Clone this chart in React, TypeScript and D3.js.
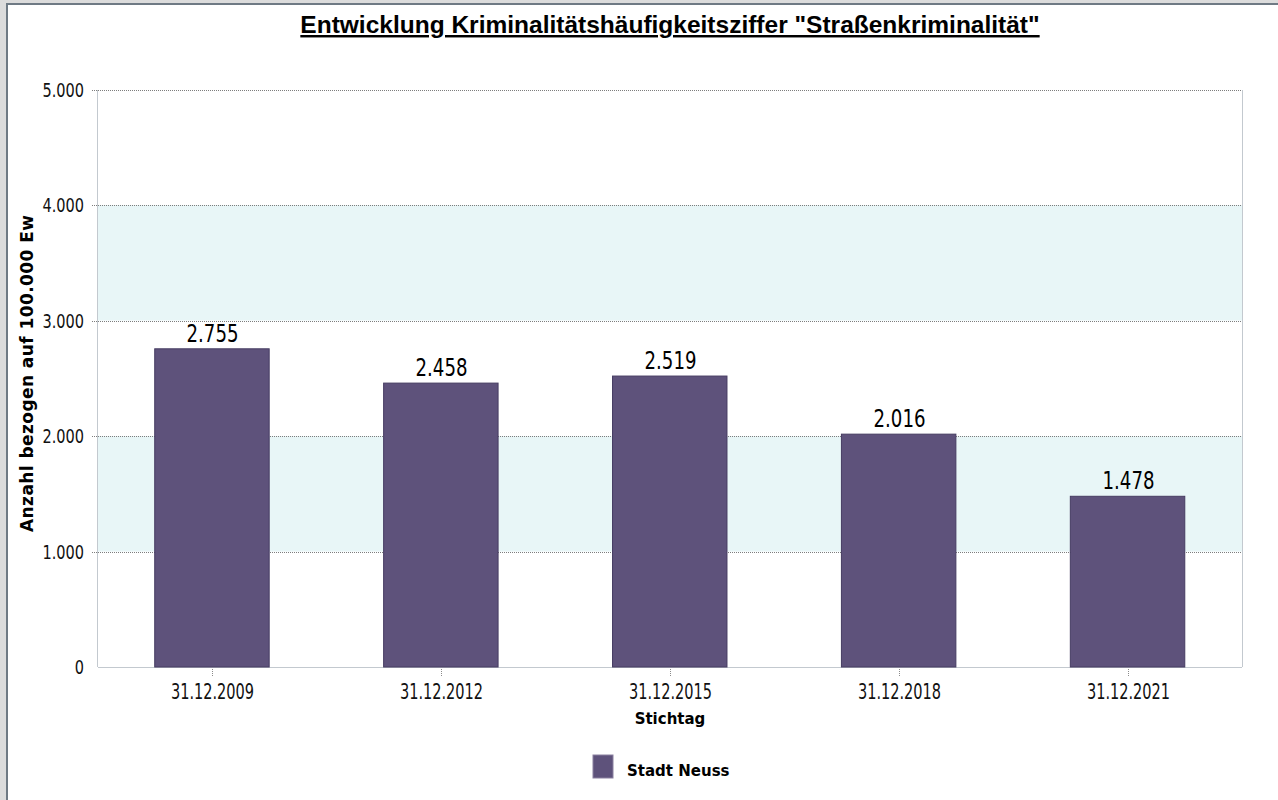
import * as React from 'react'
import * as d3 from 'd3'

const stichtage = ['31.12.2009', '31.12.2012', '31.12.2015', '31.12.2018', '31.12.2021']
const werte = [2755, 2458, 2519, 2016, 1478]
const yTicks = [0, 1000, 2000, 3000, 4000, 5000]
const bands = [[1000, 2000], [3000, 4000]]

const W = 1278
const H = 800
const left = 97.5
const right = 1242
const top = 89.5
const bottom = 667

const fmt = (v: number) => (v === 0 ? '0' : d3.format(',')(v).replace(/,/g, '.'))

// the original font is a narrow one, so squeeze the glyphs to its width
const narrowLen = (s: string, size: number) => {
  const dots = s.split('').filter(c => c === '.').length
  return (s.length - dots) * size * 0.46 + dots * size * 0.24
}

const App = () => {
  const x = d3.scaleBand().domain(stichtage).range([left, right]).paddingInner(0.5).paddingOuter(0.25)
  const y = d3.scaleLinear().domain([0, 5000]).range([bottom, top])
  const narrow = '"DejaVu Sans Condensed", "DejaVu Sans", sans-serif'
  const boldFont = '"DejaVu Sans", Verdana, sans-serif'

  return (
    <svg width={W} height={H} style={{position: 'absolute', left: 0, top: 0}}>
      {/* frame */}
      <rect x={0} y={0} width={W} height={H} fill="#dcdcdc" />
      <rect x={6} y={3} width={W} height={H} fill="#6f7a84" />
      <rect x={8} y={5} width={W} height={H} fill="#ffffff" />

      <text x={670} y={33} textAnchor="middle" fontFamily='"Liberation Sans", Arial, sans-serif'
        fontWeight="bold" fontSize={24.5} textDecoration="underline" fill="#000">
        Entwicklung Kriminalitätshäufigkeitsziffer "Straßenkriminalität"
      </text>

      {bands.map((b, i) => (
        <rect key={i} x={left} y={y(b[1])} width={right - left} height={y(b[0]) - y(b[1])} fill="#e8f6f7" />
      ))}

      {yTicks.filter(t => t > 0).map(t => (
        <line key={t} x1={left - 6} x2={right} y1={Math.round(y(t)) + 0.5} y2={Math.round(y(t)) + 0.5}
          stroke="#7d7d7d" strokeDasharray="1,1" shapeRendering="crispEdges" />
      ))}

      <line x1={left} x2={left} y1={top} y2={bottom} stroke="#c3c9cf" shapeRendering="crispEdges" />
      <line x1={right} x2={right} y1={top} y2={bottom} stroke="#c3c9cf" shapeRendering="crispEdges" />
      <line x1={left} x2={right} y1={bottom} y2={bottom} stroke="#c3c9cf" shapeRendering="crispEdges" />

      {yTicks.map(t => (
        <text key={t} x={84} y={y(t) + 7} textAnchor="end" fontFamily={narrow} fontSize={20} fill="#111"
          textLength={narrowLen(fmt(t), 20)} lengthAdjust="spacingAndGlyphs">
          {fmt(t)}
        </text>
      ))}

      {stichtage.map((s, i) => {
        const cx = Math.round(x(s)! + x.bandwidth() / 2) + 0.5
        return (
          <g key={s}>
            <rect x={x(s)} y={y(werte[i])} width={x.bandwidth()} height={bottom - y(werte[i])}
              fill="#5e527b" stroke="#463c62" strokeWidth={1} />
            <text x={cx} y={y(werte[i]) - 7} textAnchor="middle" fontFamily={narrow} fontSize={25} fill="#000"
              textLength={narrowLen(fmt(werte[i]), 25)} lengthAdjust="spacingAndGlyphs">
              {fmt(werte[i])}
            </text>
            <line x1={cx} x2={cx} y1={bottom + 2} y2={bottom + 10} stroke="#8a8a8a" strokeDasharray="1,1"
              shapeRendering="crispEdges" />
            <text x={cx} y={699} textAnchor="middle" fontFamily={narrow} fontSize={20.5} fill="#111"
              textLength={narrowLen(s, 20)} lengthAdjust="spacingAndGlyphs">
              {s}
            </text>
          </g>
        )
      })}

      <text x={670} y={724} textAnchor="middle" fontFamily={boldFont} fontWeight="bold" fontSize={15} fill="#000">
        Stichtag
      </text>

      <text transform={`translate(33, 373.5) rotate(-90)`} textAnchor="middle" fontFamily={boldFont}
        fontWeight="bold" fontSize={17} fill="#000" textLength={317} lengthAdjust="spacing">
        Anzahl bezogen auf 100.000 Ew
      </text>

      <rect x={593} y={755} width={20} height={23} fill="#5e527b" stroke="#8a80a0" />
      <text x={627} y={776} fontFamily={boldFont} fontWeight="bold" fontSize={15} fill="#000">
        Stadt Neuss
      </text>
    </svg>
  )
}

export default App
